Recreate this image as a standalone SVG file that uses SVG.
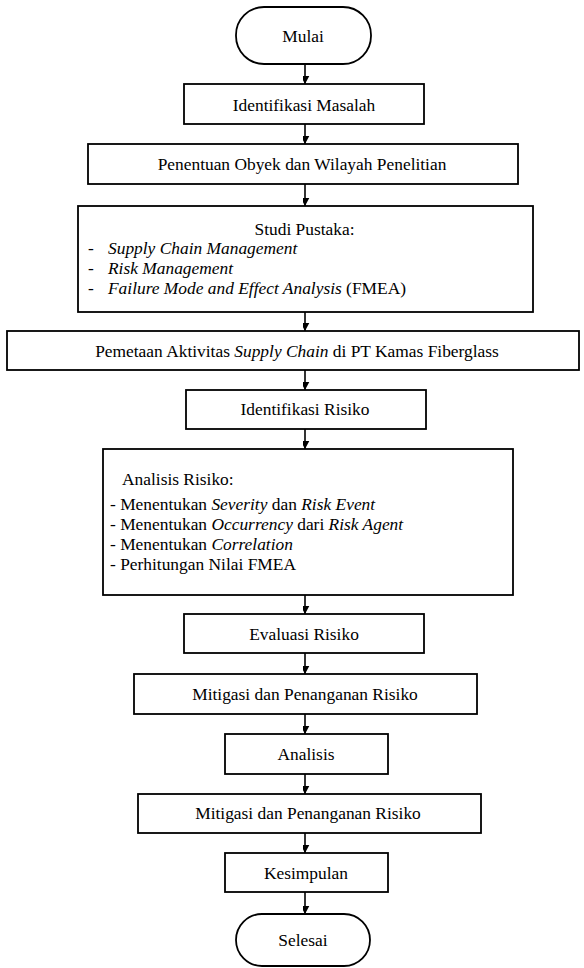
<svg xmlns="http://www.w3.org/2000/svg" width="584" height="968" viewBox="0 0 584 968">
<style>
.b{fill:#fff;stroke:#000;stroke-width:1.8}
.t{font-family:'Liberation Serif','Times New Roman',serif;font-size:17.4px;fill:#000}
.c{text-anchor:middle}
.i{font-style:italic}
.e{stroke:#000;stroke-width:1.6;fill:none;marker-end:url(#ah)}
</style>
<defs>
<marker id="ah" markerUnits="userSpaceOnUse" markerWidth="16" markerHeight="16" viewBox="-8 -14 16 16" refX="0" refY="0" orient="auto-start-reverse">
<path d="M0,0 L-7,-13 L0,-8.5 L7,-13 Z" transform="rotate(-90)" fill="#000"/>
</marker>
</defs>
<rect width="584" height="968" fill="#fff"/>
<g id="connectors">
<line class="e" x1="305" y1="64" x2="305" y2="84"/>
<line class="e" x1="305" y1="124" x2="305" y2="144"/>
<line class="e" x1="305" y1="184" x2="305" y2="206"/>
<line class="e" x1="305" y1="312" x2="305" y2="331"/>
<line class="e" x1="305" y1="370" x2="305" y2="390"/>
<line class="e" x1="305" y1="429" x2="305" y2="449"/>
<line class="e" x1="305" y1="595" x2="305" y2="614"/>
<line class="e" x1="305" y1="653" x2="305" y2="674"/>
<line class="e" x1="305" y1="714" x2="305" y2="734"/>
<line class="e" x1="305" y1="774" x2="305" y2="794"/>
<line class="e" x1="305" y1="833" x2="305" y2="853"/>
<line class="e" x1="305" y1="892" x2="305" y2="914"/>
</g>
<g id="mulai">
<rect class="b" x="236" y="7" width="135" height="57" rx="28" ry="28"/>
<text class="t c" x="303" y="42">Mulai</text>
</g>
<g id="identifikasi-masalah">
<rect class="b" x="184" y="84" width="240" height="40"/>
<text class="t c" x="304" y="111">Identifikasi Masalah</text>
</g>
<g id="penentuan">
<rect class="b" x="88" y="144" width="430" height="40"/>
<text class="t c" x="302" y="170">Penentuan Obyek dan Wilayah Penelitian</text>
</g>
<g id="studi-pustaka">
<rect class="b" x="78" y="206" width="455" height="106"/>
<text class="t c" x="304.5" y="235">Studi Pustaka:</text>
<text class="t" x="88" y="254">-</text>
<text class="t i" x="108" y="254">Supply Chain Management</text>
<text class="t" x="88" y="274">-</text>
<text class="t i" x="108" y="274">Risk Management</text>
<text class="t" x="88" y="294">-</text>
<text class="t" x="108" y="294"><tspan class="i">Failure Mode and Effect Analysis</tspan> (FMEA)</text>
</g>
<g id="pemetaan">
<rect class="b" x="7" y="331" width="572" height="39"/>
<text class="t c" x="297" y="357">Pemetaan Aktivitas <tspan class="i">Supply Chain</tspan> di PT Kamas Fiberglass</text>
</g>
<g id="identifikasi-risiko">
<rect class="b" x="186" y="390" width="240" height="39"/>
<text class="t c" x="305" y="415">Identifikasi Risiko</text>
</g>
<g id="analisis-risiko">
<rect class="b" x="103" y="449" width="410" height="146"/>
<text class="t" x="122" y="485">Analisis Risiko:</text>
<text class="t" x="110" y="510">- Menentukan <tspan class="i">Severity</tspan> dan <tspan class="i">Risk Event</tspan></text>
<text class="t" x="110" y="530">- Menentukan <tspan class="i">Occurrency</tspan> dari <tspan class="i">Risk Agent</tspan></text>
<text class="t" x="110" y="550">- Menentukan <tspan class="i">Correlation</tspan></text>
<text class="t" x="110" y="570">- Perhitungan Nilai FMEA</text>
</g>
<g id="evaluasi">
<rect class="b" x="184" y="614" width="240" height="39"/>
<text class="t c" x="304" y="640">Evaluasi Risiko</text>
</g>
<g id="mitigasi-1">
<rect class="b" x="134" y="674" width="343" height="40"/>
<text class="t c" x="305" y="700">Mitigasi dan Penanganan Risiko</text>
</g>
<g id="analisis">
<rect class="b" x="225" y="734" width="163" height="40"/>
<text class="t c" x="306" y="760">Analisis</text>
</g>
<g id="mitigasi-2">
<rect class="b" x="138" y="794" width="343" height="39"/>
<text class="t c" x="308" y="819">Mitigasi dan Penanganan Risiko</text>
</g>
<g id="kesimpulan">
<rect class="b" x="225" y="853" width="163" height="39"/>
<text class="t c" x="306" y="879">Kesimpulan</text>
</g>
<g id="selesai">
<rect class="b" x="236" y="914" width="134" height="52" rx="26" ry="26"/>
<text class="t c" x="303" y="946">Selesai</text>
</g>
</svg>
